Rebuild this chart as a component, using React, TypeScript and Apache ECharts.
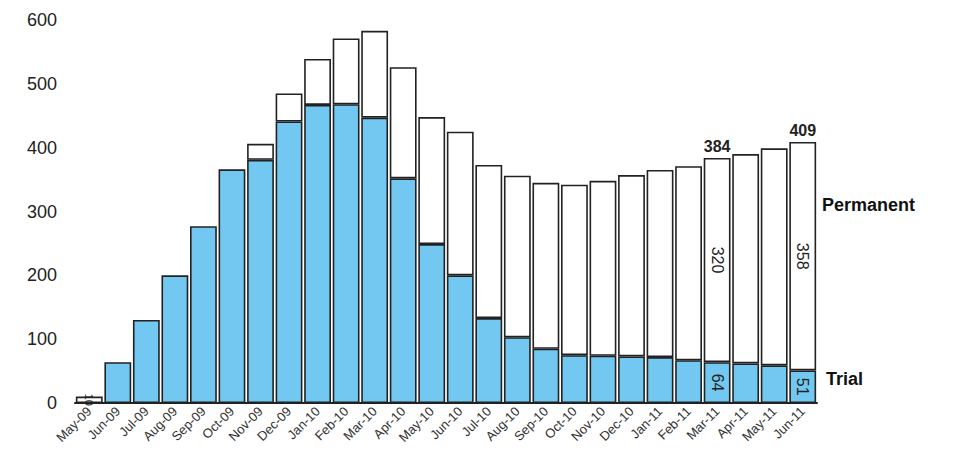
import React, { useEffect, useRef } from "react";
import * as echarts from "echarts";

const categories = [
  "May-09", "Jun-09", "Jul-09", "Aug-09", "Sep-09", "Oct-09", "Nov-09", "Dec-09",
  "Jan-10", "Feb-10", "Mar-10", "Apr-10", "May-10", "Jun-10", "Jul-10", "Aug-10",
  "Sep-10", "Oct-10", "Nov-10", "Dec-10", "Jan-11", "Feb-11", "Mar-11", "Apr-11",
  "May-11", "Jun-11",
];

const trial = [
  0, 64, 130, 200, 277, 366, 381, 441, 467, 468, 447, 352, 249, 200, 133, 103,
  85, 75, 74, 73, 72, 67, 64, 62, 59, 51,
];

const permanent = [
  10, 0, 0, 0, 0, 0, 25, 44, 72, 103, 136, 174, 199, 225, 240, 253,
  260, 267, 274, 284, 293, 304, 320, 328, 340, 358,
];

const yTicks = [0, 100, 200, 300, 400, 500, 600];

// which bars carry printed numbers
const labelledIdx = [22, 25];

const FONT = "'Liberation Sans', Arial, sans-serif";
const BLUE = "#72c8f0";
const EDGE = "#222222";

export default function App() {
  const ref = useRef<HTMLDivElement>(null);

  useEffect(() => {
    if (!ref.current) return;
    const chart = echarts.init(ref.current, null, { renderer: "svg" });

    const rotLabel = {
      show: true,
      position: "inside",
      rotate: -90,
      fontSize: 16,
      color: "#222",
      fontFamily: FONT,
    };

    const trialData = trial.map((v, i) =>
      v === 0 ? "-" : labelledIdx.includes(i) ? { value: v, label: rotLabel } : v
    );
    const permData = permanent.map((v, i) =>
      v === 0
        ? "-"
        : labelledIdx.includes(i) || i === 0
        ? { value: v, label: { ...rotLabel, fontSize: i === 0 ? 11 : 16 } }
        : v
    );
    const totalData = trial.map((v, i) =>
      labelledIdx.includes(i)
        ? {
            value: 0,
            label: {
              show: true,
              position: "top",
              formatter: String(v + permanent[i]),
              fontSize: 16,
              fontWeight: "bold",
              color: "#222",
              fontFamily: FONT,
              distance: 3,
            },
          }
        : "-"
    );

    chart.setOption({
      animation: false,
      textStyle: { fontFamily: FONT },
      grid: { left: 67, right: 134, top: 12, bottom: 52, containLabel: false },
      xAxis: {
        type: "category",
        data: categories,
        axisLine: { show: true, lineStyle: { color: EDGE, width: 2 } },
        axisTick: { show: false },
        axisLabel: {
          rotate: 45,
          interval: 0,
          fontSize: 13,
          color: "#333",
          margin: 6,
          fontFamily: FONT,
        },
      },
      yAxis: {
        type: "value",
        min: yTicks[0],
        max: yTicks[yTicks.length - 1],
        interval: 100,
        axisLine: { show: false },
        axisTick: { show: false },
        splitLine: { show: false },
        axisLabel: { fontSize: 18, color: "#222", margin: 18, fontFamily: FONT },
      },
      series: [
        {
          name: "Trial",
          type: "bar",
          stack: "s",
          data: trialData,
          barCategoryGap: "6%",
          itemStyle: { color: BLUE, borderColor: EDGE, borderWidth: 1.6 },
        },
        {
          name: "Permanent",
          type: "bar",
          stack: "s",
          data: permData,
          itemStyle: { color: "#ffffff", borderColor: EDGE, borderWidth: 1.6 },
        },
        {
          name: "Total",
          type: "bar",
          stack: "s",
          data: totalData,
          itemStyle: { color: "transparent", borderWidth: 0 },
        },
      ],
      graphic: [
        {
          type: "text",
          left: 814,
          top: 188,
          style: { text: "Permanent", fontSize: 18, fontWeight: "bold", fill: "#111", fontFamily: FONT },
        },
        {
          type: "text",
          left: 818,
          top: 362,
          style: { text: "Trial", fontSize: 18, fontWeight: "bold", fill: "#111", fontFamily: FONT },
        },
      ],
    });

    return () => chart.dispose();
  }, []);

  return <div ref={ref} style={{ width: 943, height: 447 }} />;
}
